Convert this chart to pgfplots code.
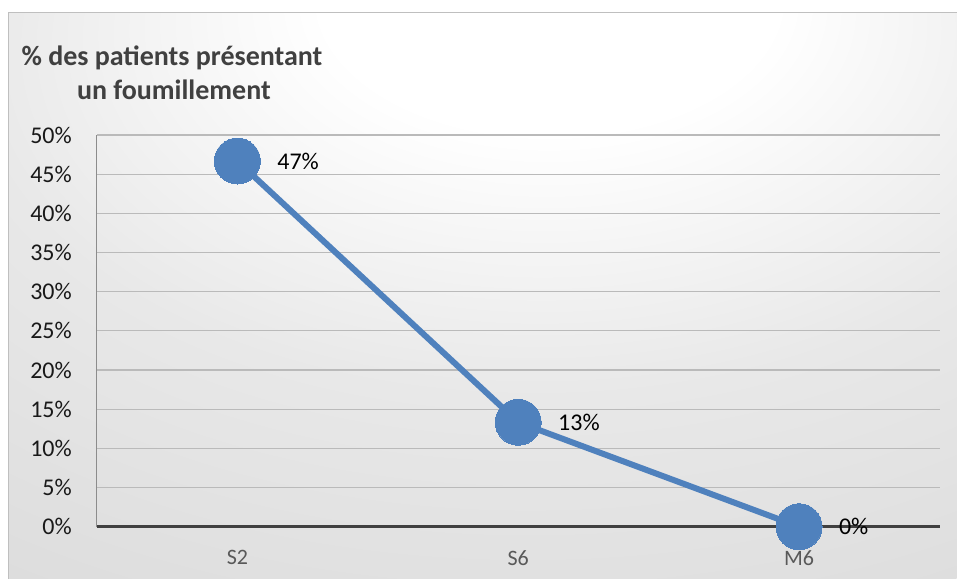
\documentclass[border=0pt]{standalone}
\usepackage{fontspec}
\setmainfont{Carlito}
\usepackage{pgfplots}
\pgfplotsset{compat=1.18}
\definecolor{lineblue}{HTML}{4F81BD}
\definecolor{titlegray}{HTML}{404040}
\definecolor{labgray}{HTML}{595959}
\pgfdeclareradialshading{bgshade}{\pgfpoint{4bp}{30bp}}{color(0bp)=(white); color(12bp)=(white); color(30bp)=(black!9); color(60bp)=(black!16); color(100bp)=(black!23)}
\begin{document}
\begin{tikzpicture}[x=1pt,y=1pt]
% bounding box = image (957 x 579), axis origin at image (97,527)
\path (-97,-52) rectangle (860,527);
\shade[shading=bgshade] (-88,-52) rectangle (860,514);
\draw[black!25, line width=1pt] (-88,-52) -- (-88,514) -- (860,514);
\begin{axis}[
  at={(0,0)}, anchor=south west,
  scale only axis, width=843pt, height=392pt,
  xmin=-0.5, xmax=2.5, ymin=0, ymax=50,
  clip=false,
  axis lines=left,
  axis line style={-},
  x axis line style={draw=black!75, line width=3pt},
  y axis line style={draw=black!45, line width=1pt},
  xtick={0,1,2}, xticklabels={S2,S6,M6},
  ytick={0,5,...,50},
  yticklabels={0\%,5\%,10\%,15\%,20\%,25\%,30\%,35\%,40\%,45\%,50\%},
  major tick length=0pt,
  ymajorgrids,
  major grid style={draw=black!27, line width=1.2pt},
  xticklabel style={font=\fontsize{22}{22}\selectfont, text=labgray, anchor=center, inner sep=0pt, yshift=-31pt},
  yticklabel style={font=\fontsize{24}{24}\selectfont, text=black!90, anchor=east, inner sep=0pt, xshift=-25pt},
  point meta=explicit symbolic,
  nodes near coords={\pgfplotspointmeta\%},
  every node near coord/.append style={anchor=west, xshift=40pt, yshift=0pt, inner sep=0pt, font=\fontsize{24}{24}\selectfont, text=black},
]
\addplot[color=lineblue, line width=6pt, mark=*, mark size=23pt, mark options={fill=lineblue, draw=lineblue, line width=0pt}]
  coordinates {(0,46.67)[47] (1,13.33)[13] (2,0)[0]};
\node[anchor=base, font=\bfseries\fontsize{28}{28}\selectfont, text=titlegray] at (axis cs:-0.233,58.80) {\% des patients présentant};
\node[anchor=base, font=\bfseries\fontsize{28}{28}\selectfont, text=titlegray] at (axis cs:-0.226,54.46) {un foumillement};
\end{axis}
\end{tikzpicture}
\end{document}
